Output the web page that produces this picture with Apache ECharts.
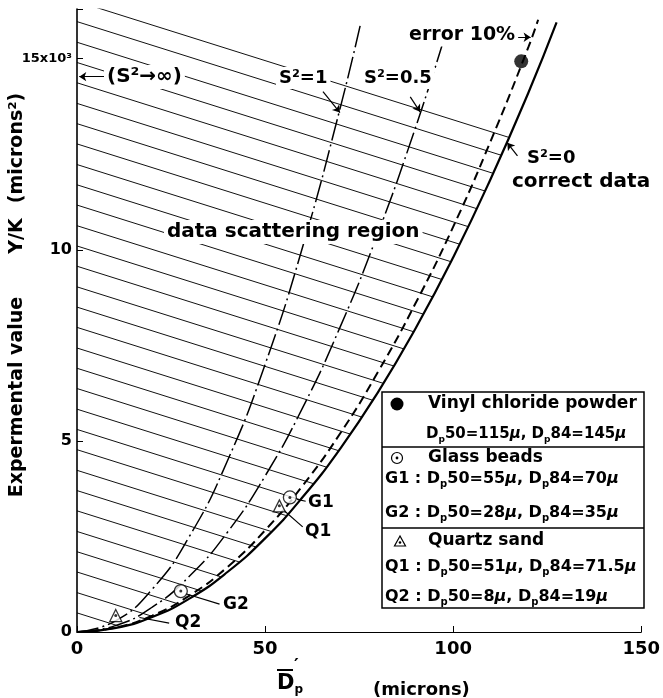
<!DOCTYPE html>
<html>
<head>
<meta charset="utf-8">
<script src="https://cdn.jsdelivr.net/npm/echarts@6/dist/echarts.min.js"></script>
<style>
html, body { margin: 0; padding: 0; background: #fff; }
#chart { width: 663px; height: 698px; }
</style>
</head>
<body>
<div id="chart"></div>
<script>
// x: mean D'p (microns), y: Y/K (10^3 microns^2)
const s0X = [0, 10, 20, 30, 40, 50, 60, 70, 80, 90, 100, 110, 120, 127.5]
const s0Y = [0, 0.1, 0.39, 0.88, 1.57, 2.45, 3.53, 4.8, 6.27, 7.94, 9.8, 11.86, 14.11, 15.95]
const errX = [0, 10, 20, 30, 40, 50, 60, 70, 80, 90, 100, 110, 120, 122.6]
const errY = [0, 0.11, 0.43, 0.96, 1.7, 2.66, 3.83, 5.2, 6.8, 8.6, 10.6, 12.85, 15.3, 16.02]
const s05X = [0, 10, 20, 30, 40, 50, 60, 70, 80, 90, 97]
const s05Y = [0, 0.16, 0.65, 1.47, 2.61, 4.08, 5.87, 7.99, 10.43, 13.2, 15.33]
const s1X = [0, 10, 20, 30, 40, 50, 60, 70, 75.5]
const s1Y = [0, 0.28, 1.12, 2.52, 4.48, 7.0, 10.08, 13.72, 15.96]

// measured points
const vinylPts = [[118.1, 14.93]]
const glassPts = [[56.6, 3.52], [27.6, 1.07]]
const quartzPts = [[53.8, 3.3], [10.3, 0.43]]

// hatching of the data scattering region: start value on the y axis, common slope
const hatchStart = [16.5, 15.97, 15.43, 14.9, 14.37, 13.83, 13.3, 12.77, 12.23, 11.7, 11.17,
  10.63, 10.1, 9.57, 9.03, 8.5, 7.97, 7.43, 6.9, 6.37, 5.83, 5.3, 4.77, 4.23, 3.7, 3.17,
  2.63, 2.1, 1.57, 1.03, 0.5]
const hatchSlope = -0.031
const hatchEnd = 130

const xTicks = [0, 50, 100, 150]
const yTicks = [0, 5, 10, 15]

// annotation arrows and leader lines (data coords)
const arrows = [
  [[7.9, 14.53], [0.6, 14.53]],
  [[65.4, 14.14], [69.9, 13.59]],
  [[88.6, 14.0], [91.2, 13.61]],
  [[114.9, 15.56], [120.6, 15.56]],
  [[117.1, 12.46], [114.4, 12.8]]
]
const leaders = [
  [[58.5, 3.47], [60.8, 3.42]],
  [[54.8, 3.2], [60.0, 2.75]],
  [[28.9, 1.0], [37.9, 0.73]],
  [[16.6, 0.38], [24.5, 0.23]]
]

const FONT = 'DejaVu Sans'
const zip = (xs, ys) => xs.map((x, i) => [x, ys[i]])

const chart = echarts.init(document.getElementById('chart'))

const txt = (x, y, text, size, extra) => ({
  type: 'text', x: x, y: y, z: 100, silent: true,
  style: Object.assign({
    text: text, fill: '#000', align: 'left', verticalAlign: 'middle',
    fontFamily: FONT, fontWeight: 'bold', fontSize: size
  }, extra || {})
})
const boxed = { backgroundColor: '#fff', padding: [2, 3] }

const makeRich = size => ({
  t: { fontFamily: FONT, fontWeight: 'bold', fontSize: size, lineHeight: 20 },
  s: { fontFamily: FONT, fontWeight: 'bold', fontSize: size - 6, lineHeight: 20, verticalAlign: 'bottom' },
  m: { fontFamily: FONT, fontWeight: 'bold', fontSize: size, fontStyle: 'italic', lineHeight: 20 }
})
const dpRow = (prefix, d50, d84) =>
  '{t|' + prefix + 'D}{s|p}{t|50=' + d50 + '}{m|μ}{t|, D}{s|p}{t|84=' + d84 + '}{m|μ}'

const option = {
  animation: false,
  backgroundColor: '#fff',
  grid: { left: 77, right: 17, top: 9, bottom: 66 },
  xAxis: {
    type: 'value', min: 0, max: 150, interval: 50, z: 10,
    axisLine: { lineStyle: { color: '#000', width: 1.2 } },
    axisTick: { inside: true, length: 6, lineStyle: { color: '#000' } },
    axisLabel: {
      margin: 8, color: '#000', fontFamily: FONT, fontWeight: 'bold', fontSize: 18,
      formatter: v => (xTicks.indexOf(v) >= 0 ? String(v) : '')
    },
    splitLine: { show: false }
  },
  yAxis: {
    type: 'value', min: 0, max: 16.3, interval: 5, z: 10,
    axisLine: { show: true, lineStyle: { color: '#000', width: 1.6 } },
    axisTick: { show: true, inside: true, length: 6, lineStyle: { color: '#000' } },
    axisLabel: {
      margin: 5, color: '#000', fontFamily: FONT, fontWeight: 'bold', fontSize: 16,
      formatter: v => {
        if (yTicks.indexOf(v) < 0) return ''
        return v === 15 ? '{a|15x10³}' : String(v)
      },
      rich: { a: { fontFamily: FONT, fontWeight: 'bold', fontSize: 13 } }
    },
    splitLine: { show: false }
  },
  series: [
    {
      type: 'lines', coordinateSystem: 'cartesian2d', z: 1, silent: true, clip: true,
      lineStyle: { color: '#111', width: 1, opacity: 1 },
      data: hatchStart.map(y0 => ({ coords: [[0, y0], [hatchEnd, y0 + hatchSlope * hatchEnd]] }))
    },
    {
      // white mask right of the S^2 = 0 curve
      type: 'line', z: 2, silent: true, symbol: 'none',
      data: zip(s0X, s0Y).concat([[150, 16.3]]),
      lineStyle: { width: 0, opacity: 0 },
      areaStyle: { color: '#fff', opacity: 1 }
    },
    {
      name: 'S2=0', type: 'line', z: 3, symbol: 'none', smooth: true,
      data: zip(s0X, s0Y), lineStyle: { color: '#000', width: 2.2 }
    },
    {
      name: 'error 10%', type: 'line', z: 3, symbol: 'none', smooth: true,
      data: zip(errX, errY), lineStyle: { color: '#000', width: 2, type: [9, 5] }
    },
    {
      name: 'S2=0.5', type: 'line', z: 3, symbol: 'none', smooth: true,
      data: zip(s05X, s05Y), lineStyle: { color: '#000', width: 1.5, type: [22, 4, 2, 4] }
    },
    {
      name: 'S2=1', type: 'line', z: 3, symbol: 'none', smooth: true,
      data: zip(s1X, s1Y), lineStyle: { color: '#000', width: 1.5, type: [22, 4, 2, 4] }
    },
    {
      type: 'lines', coordinateSystem: 'cartesian2d', z: 4, silent: true,
      symbol: ['none', 'arrow'], symbolSize: 7,
      lineStyle: { color: '#000', width: 1.2, opacity: 1 },
      data: arrows.map(a => ({ coords: a }))
    },
    {
      type: 'lines', coordinateSystem: 'cartesian2d', z: 4, silent: true,
      lineStyle: { color: '#000', width: 1.2, opacity: 1 },
      data: leaders.map(a => ({ coords: a }))
    },
    {
      name: 'Vinyl chloride powder', type: 'scatter', z: 5, symbol: 'circle', symbolSize: 14,
      data: vinylPts, itemStyle: { color: '#000' }
    },
    {
      name: 'Glass beads', type: 'scatter', z: 5, symbol: 'circle', symbolSize: 13,
      data: glassPts, itemStyle: { color: '#fff', borderColor: '#000', borderWidth: 1.3 }
    },
    {
      name: 'Quartz sand', type: 'scatter', z: 5, symbol: 'triangle', symbolSize: 12,
      data: quartzPts, itemStyle: { color: '#fff', borderColor: '#000', borderWidth: 1.3 }
    },
    {
      type: 'scatter', z: 6, symbol: 'circle', symbolSize: 3,
      data: glassPts.concat(quartzPts), itemStyle: { color: '#000' }
    }
  ],
  graphic: [
    // annotations
    txt(104, 77, '(S²→∞)', 20, boxed),
    txt(276, 78, 'S²=1', 18, boxed),
    txt(361, 78, 'S²=0.5', 18, boxed),
    txt(406, 35, 'error 10%', 19, boxed),
    txt(527, 158, 'S²=0', 18),
    txt(512, 182, 'correct data', 20),
    txt(164, 232, 'data scattering region', 20, boxed),
    txt(308, 503, 'G1', 17),
    txt(305, 532, 'Q1', 17),
    txt(223, 605, 'G2', 17),
    txt(175, 623, 'Q2', 17),
    // axis titles
    txt(17, 397, 'Expermental value', 19, { align: 'center' }),
    txt(17, 236, 'Y/K', 19, { align: 'center' }),
    txt(17, 148, '(microns²)', 19, { align: 'center' }),
    txt(277, 684, '{d|D}{s|p}', 20, {
      rich: {
        d: { fontFamily: FONT, fontWeight: 'bold', fontSize: 21, lineHeight: 24 },
        s: { fontFamily: FONT, fontWeight: 'bold', fontSize: 12, lineHeight: 24, verticalAlign: 'bottom' }
      }
    }),
    { type: 'line', z: 100, shape: { x1: 277, y1: 670, x2: 293, y2: 670 }, style: { stroke: '#000', lineWidth: 2 } },
    txt(294, 666, '′', 18),
    txt(373, 690, '(microns)', 18),
    // legend box
    {
      type: 'rect', z: 99, shape: { x: 382, y: 392, width: 262, height: 216 },
      style: { fill: '#fff', stroke: '#000', lineWidth: 1.5 }
    },
    { type: 'line', z: 100, shape: { x1: 382, y1: 447, x2: 644, y2: 447 }, style: { stroke: '#000', lineWidth: 1.5 } },
    { type: 'line', z: 100, shape: { x1: 382, y1: 528, x2: 644, y2: 528 }, style: { stroke: '#000', lineWidth: 1.5 } },
    { type: 'circle', z: 100, shape: { cx: 397, cy: 404, r: 6.5 }, style: { fill: '#000' } },
    { type: 'circle', z: 100, shape: { cx: 397, cy: 458, r: 5.5 }, style: { fill: '#fff', stroke: '#000', lineWidth: 1.2 } },
    { type: 'circle', z: 101, shape: { cx: 397, cy: 458, r: 1.4 }, style: { fill: '#000' } },
    { type: 'polygon', z: 100, shape: { points: [[400, 536], [394.5, 546], [405.5, 546]] }, style: { fill: '#fff', stroke: '#000', lineWidth: 1.2 } },
    { type: 'circle', z: 101, shape: { cx: 400, cy: 542.5, r: 1.3 }, style: { fill: '#000' } },
    txt(428, 404, 'Vinyl chloride powder', 17),
    txt(426, 434, dpRow('', '115', '145'), 15, { rich: makeRich(15) }),
    txt(428, 458, 'Glass beads', 17),
    txt(385, 479, dpRow('G1 : ', '55', '70'), 16, { rich: makeRich(16) }),
    txt(385, 513, dpRow('G2 : ', '28', '35'), 16, { rich: makeRich(16) }),
    txt(428, 541, 'Quartz sand', 17),
    txt(385, 567, dpRow('Q1 : ', '51', '71.5'), 16, { rich: makeRich(16) }),
    txt(385, 597, dpRow('Q2 : ', '8', '19'), 16, { rich: makeRich(16) })
  ]
}

// rotate the y-axis title pieces
option.graphic.slice(11, 14).forEach(g => { g.rotation = Math.PI / 2 })

chart.setOption(option)
</script>
</body>
</html>
